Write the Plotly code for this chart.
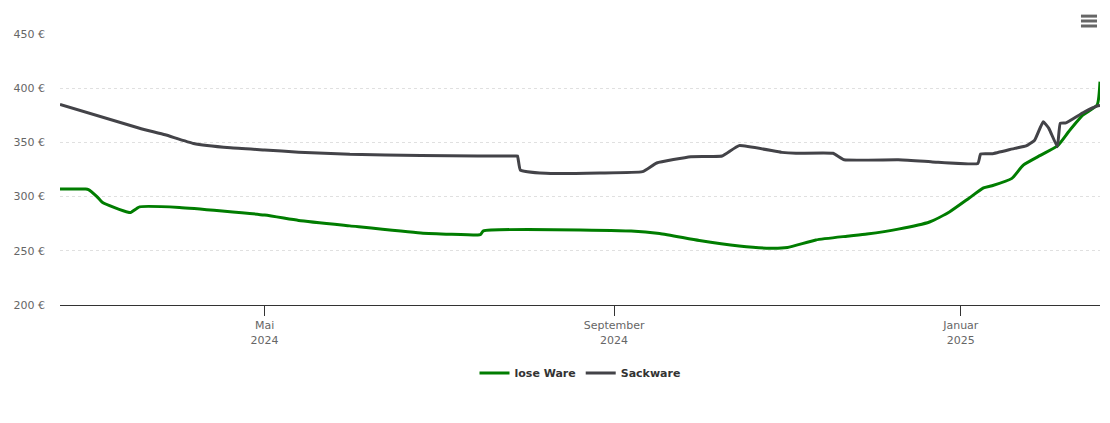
import plotly.graph_objects as go

# ---- data ----
lose_dates = ["2024-02-19", "2024-02-28", "2024-02-29", "2024-03-03", "2024-03-05", "2024-03-09",
              "2024-03-14", "2024-03-15", "2024-03-18", "2024-04-01", "2024-05-01", "2024-05-13",
              "2024-05-31", "2024-06-25", "2024-07-15", "2024-07-16", "2024-07-17", "2024-09-07",
              "2024-09-17", "2024-10-01", "2024-10-15", "2024-10-26", "2024-11-01", "2024-11-11",
              "2024-11-22", "2024-11-29", "2024-12-10", "2024-12-21", "2024-12-28", "2025-01-04",
              "2025-01-09", "2025-01-12", "2025-01-19", "2025-01-23", "2025-01-29", "2025-02-04",
              "2025-02-08", "2025-02-13", "2025-02-18", "2025-02-19"]
lose_values = [307, 307, 306.5, 300, 294.5, 290, 285.5, 285.5, 290.5, 290, 283, 278,
               273, 266.5, 264.6, 265, 268.3, 268.3,
               266, 259.5, 254.5, 252.3, 253, 260,
               263.5, 265.5, 270, 276.6, 285.8, 298.7,
               308, 310, 316.8, 329, 338, 346.7,
               360, 375.3, 384.5, 406]

sack_dates = ["2024-02-19", "2024-03-18", "2024-03-27", "2024-04-06", "2024-04-19", "2024-05-01",
              "2024-05-13", "2024-05-31", "2024-06-25", "2024-07-15", "2024-07-28", "2024-07-29",
              "2024-07-30", "2024-08-08", "2024-08-27", "2024-09-11", "2024-09-16", "2024-09-28",
              "2024-10-09", "2024-10-15", "2024-10-30", "2024-11-04", "2024-11-17", "2024-11-21",
              "2024-12-10", "2024-12-22", "2025-01-07", "2025-01-08", "2025-01-12", "2025-01-20",
              "2025-01-24", "2025-01-27", "2025-01-30", "2025-02-01", "2025-02-04", "2025-02-05",
              "2025-02-07", "2025-02-13", "2025-02-18", "2025-02-19"]
sack_values = [385, 363, 357, 349, 345, 343,
               341, 339, 338, 337.5, 337.5, 337.5,
               324.5, 321.5, 321.8, 323, 331, 336.8,
               337.5, 347, 340.8, 340, 340, 334,
               334, 332, 330.5, 339.3, 339.5, 344.5,
               346.7, 352, 369, 363, 346, 367.6,
               368, 377.4, 383.6, 384]

tick_vals = ["2024-05-01", "2024-09-01", "2025-01-01"]
tick_text = ["Mai<br>2024", "September<br>2024", "Januar<br>2025"]
y_ticks = [200, 250, 300, 350, 400, 450]
y_tick_text = ["200 €", "250 €", "300 €", "350 €", "400 €", "450 €"]

FONT = "DejaVu Sans"
fig = go.Figure()
fig.add_trace(go.Scatter(x=lose_dates, y=lose_values, name="lose Ware", mode="lines",
                         line=dict(color="#007d00", width=3, shape="spline", smoothing=0.5)))
fig.add_trace(go.Scatter(x=sack_dates, y=sack_values, name="Sackware", mode="lines",
                         line=dict(color="#434348", width=3, shape="spline", smoothing=0.35)))

fig.update_layout(
    width=1110, height=423,
    margin=dict(l=60, r=10, t=34, b=118),
    paper_bgcolor="white", plot_bgcolor="white",
    font=dict(family=FONT, size=11, color="#666666"),
    showlegend=True,
    legend=dict(orientation="h", x=0.5, xanchor="center", y=-0.251, yanchor="middle",
                font=dict(family=FONT, size=11, color="#333333", weight="bold"),
                itemwidth=30, traceorder="normal"),
    xaxis=dict(range=["2024-02-19", "2025-02-19"], tickvals=tick_vals, ticktext=tick_text,
               showgrid=False, showline=True, linecolor="#333333", linewidth=1,
               ticks="outside", ticklen=10, tickcolor="#333333",
               tickfont=dict(family=FONT, size=11, color="#666666"), zeroline=False),
    yaxis=dict(range=[200, 450], tickvals=y_ticks, ticktext=y_tick_text,
               showgrid=True, gridcolor="#e0e0e0", griddash="dot", gridwidth=1,
               zeroline=False, showline=False, ticks="", ticklabelstandoff=14,
               tickfont=dict(family=FONT, size=11, color="#666666")),
)

# hamburger menu icon (export button)
for yy in [1.066, 1.048, 1.0295]:
    fig.add_shape(type="line", xref="paper", yref="paper",
                  x0=0.9817, x1=0.9971, y0=yy, y1=yy,
                  line=dict(color="#666666", width=3))

fig.write_html("out.html", config={"displayModeBar": False},
               post_script="document.body.style.margin='0';")
